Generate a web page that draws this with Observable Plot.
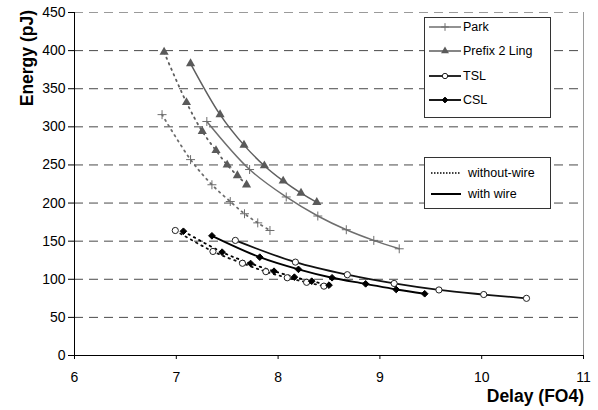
<!DOCTYPE html>
<html>
<head>
<meta charset="utf-8">
<script src="https://cdn.jsdelivr.net/npm/d3@7"></script>
<script src="https://cdn.jsdelivr.net/npm/@observablehq/plot@0.6"></script>
<style>
  body { margin: 0; background: white; }
  #wrap { position: relative; width: 598px; height: 410px; font-family: "Liberation Sans", Arial, sans-serif; }
  #overlay { position: absolute; left: 0; top: 0; pointer-events: none; }
</style>
</head>
<body>
<div id="wrap"></div>
<script>
// ---- Data ----
const xTicks = [6, 7, 8, 9, 10, 11];
const yTicks = [0, 50, 100, 150, 200, 250, 300, 350, 400, 450];
const seriesNames = ["Park", "Prefix 2 Ling", "TSL", "CSL"];
const wireNames = ["without-wire", "with wire"];

const parkNoWireDelay  = [6.86, 7.14, 7.35, 7.53, 7.67, 7.80, 7.92];
const parkNoWireEnergy = [316, 257, 224, 202, 186, 174, 164];
const parkWireDelay    = [7.30, 7.72, 8.08, 8.39, 8.67, 8.94, 9.19];
const parkWireEnergy   = [307, 244, 208, 183, 165, 151, 140];

const prefixNoWireDelay  = [6.88, 7.10, 7.255, 7.39, 7.50, 7.60, 7.69];
const prefixNoWireEnergy = [398, 332, 294, 269, 250, 236, 224];
const prefixWireDelay    = [7.14, 7.43, 7.665, 7.865, 8.05, 8.225, 8.38];
const prefixWireEnergy   = [383, 316, 276, 249, 229, 213, 201];

const tslNoWireDelay  = [6.99, 7.36, 7.65, 7.88, 8.09, 8.28, 8.45];
const tslNoWireEnergy = [164, 136.5, 121, 110, 102, 96, 91];
const tslWireDelay    = [7.58, 8.17, 8.68, 9.14, 9.58, 10.02, 10.44];
const tslWireEnergy   = [151, 122.5, 106, 94.5, 86, 80, 75];

const cslNoWireDelay  = [7.07, 7.45, 7.73, 7.96, 8.16, 8.33, 8.50];
const cslNoWireEnergy = [163, 135.6, 120.7, 110.6, 102.8, 97.5, 92.3];
const cslWireDelay    = [7.35, 7.82, 8.20, 8.53, 8.86, 9.16, 9.44];
const cslWireEnergy   = [157, 129, 113, 102, 94, 86.6, 81];

// ---- Build table ----
const rows = [];
function add(series, wire, xs, ys) {
  xs.forEach((x, i) => rows.push({series, wire, delay: x, energy: ys[i]}));
}
add("Park", "without-wire", parkNoWireDelay, parkNoWireEnergy);
add("Park", "with wire", parkWireDelay, parkWireEnergy);
add("Prefix 2 Ling", "without-wire", prefixNoWireDelay, prefixNoWireEnergy);
add("Prefix 2 Ling", "with wire", prefixWireDelay, prefixWireEnergy);
add("TSL", "without-wire", tslNoWireDelay, tslNoWireEnergy);
add("TSL", "with wire", tslWireDelay, tslWireEnergy);
add("CSL", "without-wire", cslNoWireDelay, cslNoWireEnergy);
add("CSL", "with wire", cslWireDelay, cslWireEnergy);

const styles = {
  "Park":          {line: "#6e6e6e", width: 1.5, symbol: "plus",     r: 3.0, fill: "none",    stroke: "#6e6e6e", sw: 1},
  "Prefix 2 Ling": {line: "#5e5e5e", width: 1.5, symbol: "triangle", r: 3.4, fill: "#5a5a5a", stroke: "none",    sw: 0},
  "TSL":           {line: "#111",    width: 1.8, symbol: "circle",   r: 3.1, fill: "white",   stroke: "#222",    sw: 1},
  "CSL":           {line: "#000",    width: 1.8, symbol: "diamond2", r: 3.0, fill: "#000",    stroke: "#000",    sw: 1}
};

const marks = [
  Plot.ruleY(yTicks.filter(d => d > 0 && d < 450), {stroke: "#4a4a4a", strokeDasharray: "9,6", strokeWidth: 1}),
  Plot.ruleY([450], {stroke: "#9a9a9a", strokeDasharray: "9,6", strokeWidth: 1}),
  Plot.ruleX([11], {stroke: "#9a9a9a", strokeWidth: 1}),
];

for (const s of seriesNames) {
  const st = styles[s];
  for (const w of wireNames) {
    const data = rows.filter(d => d.series === s && d.wire === w);
    marks.push(Plot.line(data, {
      x: "delay", y: "energy", curve: "catmull-rom",
      stroke: st.line, strokeWidth: w === "with wire" ? st.width : 1.8,
      strokeDasharray: w === "with wire" ? null : "1.5,4.5"
    }));
  }
}
for (const s of seriesNames) {
  const st = styles[s];
  const data = rows.filter(d => d.series === s);
  marks.push(Plot.dot(data, {
    x: "delay", y: "energy", symbol: () => st.symbol, r: st.r,
    fill: st.fill, stroke: st.stroke, strokeWidth: st.sw
  }));
}

marks.push(
  Plot.axisY({ticks: yTicks, tickSize: 6, tickPadding: 3, label: null, fontSize: 14, tickFormat: d => String(d)}),
  Plot.axisX({ticks: xTicks, tickSize: 4, tickPadding: 13, label: null, fontSize: 14, tickFormat: d => String(d)}),
  Plot.ruleX([6], {stroke: "#000", strokeWidth: 1}),
  Plot.ruleY([0], {stroke: "#000", strokeWidth: 1})
);

const chart = Plot.plot({
  width: 598,
  height: 410,
  marginLeft: 74,
  marginRight: 15,
  marginTop: 12,
  marginBottom: 55,
  x: {domain: [6, 11]},
  y: {domain: [0, 450]},
  symbol: {type: "identity"},
  style: {fontFamily: "'Liberation Sans', Arial, sans-serif", fontSize: "14px", color: "#000", background: "white"},
  marks
});

const wrap = document.getElementById("wrap");
wrap.appendChild(chart);

// ---- Overlay: axis titles and legends ----
const ov = d3.select(wrap).append("svg")
  .attr("id", "overlay").attr("width", 598).attr("height", 410)
  .style("font-family", "'Liberation Sans', Arial, sans-serif");

ov.append("text")
  .attr("transform", "translate(33,10) rotate(-90)")
  .attr("text-anchor", "end")
  .attr("font-weight", "bold").attr("font-size", 17.5)
  .text("Energy (pJ)");

ov.append("text")
  .attr("x", 584).attr("y", 402)
  .attr("text-anchor", "end")
  .attr("font-weight", "bold").attr("font-size", 17.5)
  .text("Delay (FO4)");

// Legend 1: series
const lg1 = ov.append("g");
lg1.append("rect").attr("x", 424.5).attr("y", 17.5).attr("width", 126).attr("height", 100)
  .attr("fill", "white").attr("stroke", "#333").attr("stroke-width", 1);
const symMap = {plus: d3.symbolPlus, triangle: d3.symbolTriangle, circle: d3.symbolCircle, diamond2: d3.symbolDiamond2};
const ly1 = [27, 51, 76, 100];
seriesNames.forEach((s, i) => {
  const st = styles[s];
  const y = ly1[i];
  lg1.append("line").attr("x1", 429).attr("x2", 461).attr("y1", y).attr("y2", y)
    .attr("stroke", st.line).attr("stroke-width", st.width);
  lg1.append("path")
    .attr("transform", `translate(445,${y})`)
    .attr("d", d3.symbol(symMap[st.symbol], Math.PI * st.r * st.r * 0.75)())
    .attr("fill", st.fill).attr("stroke", st.stroke).attr("stroke-width", st.sw);
  lg1.append("text").attr("x", 463).attr("y", y).attr("dy", "0.35em")
    .attr("font-size", 12.5).text(s);
});

// Legend 2: wire
const lg2 = ov.append("g");
lg2.append("rect").attr("x", 424.5).attr("y", 157.5).attr("width", 126).attr("height", 51)
  .attr("fill", "white").attr("stroke", "#333").attr("stroke-width", 1);
const ly2 = [173, 194];
wireNames.forEach((w, i) => {
  const y = ly2[i];
  lg2.append("line").attr("x1", 431).attr("x2", 461).attr("y1", y).attr("y2", y)
    .attr("stroke", "#000").attr("stroke-width", w === "with wire" ? 2 : 1.5)
    .attr("stroke-dasharray", w === "with wire" ? null : "1.5,1.5");
  lg2.append("text").attr("x", 468).attr("y", y).attr("dy", "0.35em")
    .attr("font-size", 12.5).text(w);
});
</script>
</body>
</html>
